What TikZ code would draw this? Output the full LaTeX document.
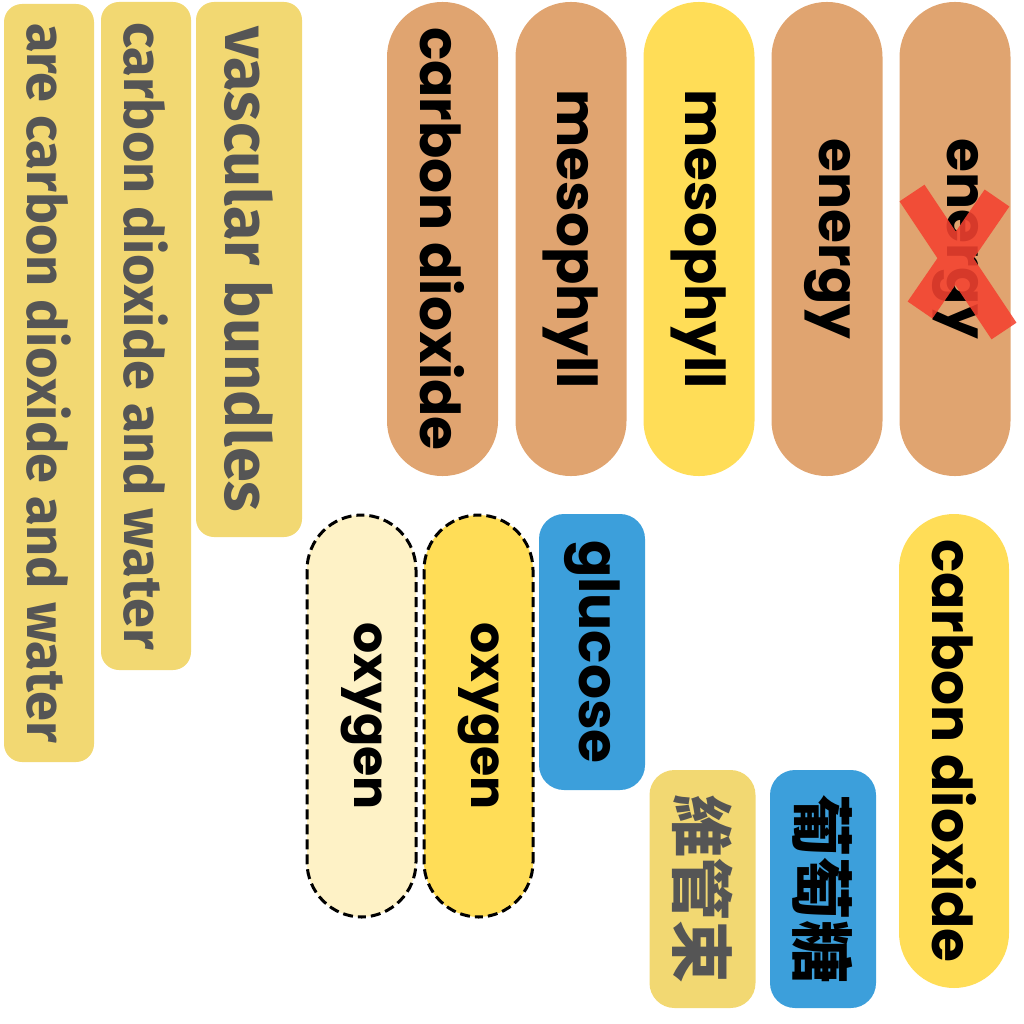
\documentclass[tikz,border=0pt]{standalone}
\usepackage{fontspec}
\usepackage{tikz}
\usetikzlibrary{arrows.meta, positioning}
\newfontfamily\popfont{Poppins}
\newfontfamily\firafont{Fira Sans}
\newfontfamily\cjkfont{Noto Sans CJK TC}
\definecolor{mutedyellow}{HTML}{F2D872}
\definecolor{labelgray}{HTML}{555555}
\definecolor{tan}{HTML}{E0A470}
\definecolor{sunyellow}{HTML}{FFDD57}
\definecolor{paleyellow}{HTML}{FEF2C6}
\definecolor{skyblue}{HTML}{3C9FDB}
\definecolor{crossred}{HTML}{F44230}
\tikzset{%
	every card/.style={
		rotate=-90,
		inner sep=0pt,
		text=black,
		font=\popfont\bfseries\fontsize{55}{60}\selectfont
	},
	pill/.style={
		every card,
		rounded corners=55pt,
		minimum height=111pt,
		minimum width=474pt
	},
	gray card/.style={
		every card,
		fill=mutedyellow,
		rounded corners=18pt,
		text=labelgray,
		font=\firafont\bfseries\fontsize{54}{58}\selectfont
	},
	dashed pill/.style={
		pill,
		draw=black,
		line width=3pt,
		dash pattern=on 10pt off 5pt,
		minimum height=109pt,
		minimum width=402pt,
		font=\popfont\bfseries\fontsize{49}{55}\selectfont
	},
	tag/.style={
		every card,
		rounded corners=25pt,
		minimum height=106pt
	},
	cjk tag/.style={
		tag,
		minimum width=238pt,
		font=\cjkfont\bfseries\fontsize{63}{66}\selectfont
	},
}
\begin{document}
\begin{tikzpicture}[x=1pt, y=-1pt]
	\useasboundingbox (0,0) rectangle (1024,1024);
	% left column
	\node[gray card, minimum width=758pt, minimum height=90pt] (water2) at (49,383) {are carbon dioxide and water};
	\node[gray card, minimum width=668pt, minimum height=90pt] (water1) at (146,336) {carbon dioxide and water};
	\node[gray card, minimum width=535pt, minimum height=106pt, font=\firafont\bfseries\fontsize{63}{68}\selectfont] (bundles) at (249,269.5) {vascular bundles};
	
	% top row
	\node[pill, fill=tan] (co2top) at (442.5,239) {carbon dioxide};
	\node[pill, fill=tan] (meso1) at (571,239) {mesophyll};
	\node[pill, fill=sunyellow] (meso2) at (699,239) {mesophyll};
	\node[pill, fill=tan] (energy1) at (827,239) {energy};
	\node[pill, fill=tan] (energy2) at (955,239) {energy};
	\coordinate (xa) at (912,193);
	\coordinate (xb) at (1004,331);
	\coordinate (xc) at (997,198);
	\coordinate (xd) at (920,310);
	\draw[crossred, opacity=0.88, line width=30pt] (xa) -- (xb) (xc) -- (xd);
	
	% bottom row
	\node[dashed pill, fill=paleyellow] (oxy1) at (361.5,716) {oxygen};
	\node[dashed pill, fill=sunyellow] (oxy2) at (478.5,716) {oxygen};
	\node[tag, fill=skyblue, minimum width=276pt] (glucose) at (592,652) {glucose};
	\node[cjk tag, fill=mutedyellow, text=labelgray] (bundlescjk) at (702.5,889) {維管束};
	\node[cjk tag, fill=skyblue] (glucosecjk) at (823,889) {葡萄糖};
	\node[pill, fill=sunyellow, minimum height=110pt] (co2bottom) at (954,751) {carbon dioxide};
\end{tikzpicture}
\end{document}
